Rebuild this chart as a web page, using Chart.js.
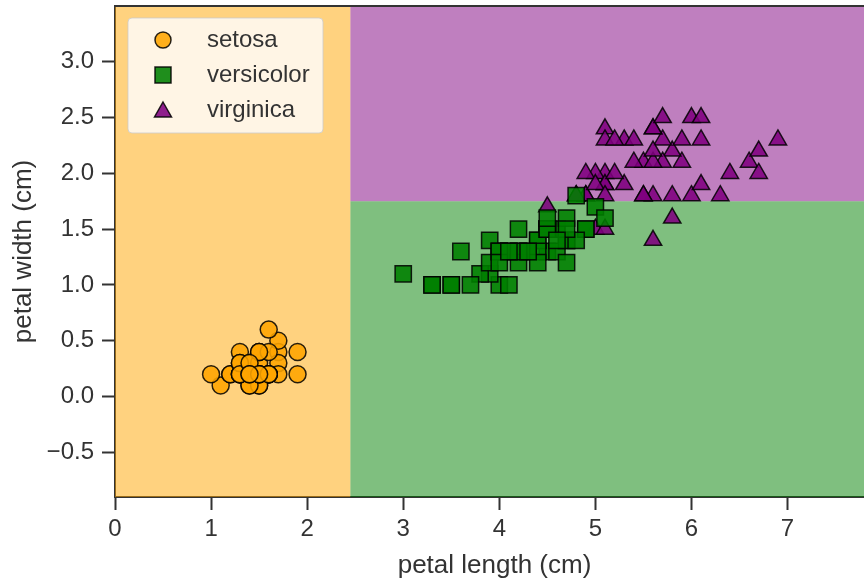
<!DOCTYPE html>
<html>
<head>
<meta charset="utf-8">
<script src="https://cdn.jsdelivr.net/npm/chart.js"></script>
<style>
  html, body { margin: 0; padding: 0; background: #fff; overflow: hidden; }
  /* the figure is a little wider than the window, its right edge is cut off like in the picture */
  #wrap { width: 874px; height: 581px; position: relative; }
</style>
</head>
<body>
<div id="wrap"><canvas id="irisChart"></canvas></div>
<script>
var setosaLength = [1.4,1.4,1.3,1.5,1.4,1.7,1.4,1.5,1.4,1.5,1.5,1.6,1.4,1.1,1.2,1.5,1.3,1.4,1.7,1.5,1.7,1.5,1.0,1.7,1.9,1.6,1.6,1.5,1.4,1.6,1.6,1.5,1.5,1.4,1.5,1.2,1.3,1.4,1.3,1.5,1.3,1.3,1.3,1.6,1.9,1.4,1.6,1.4,1.5,1.4];
var setosaWidth  = [0.2,0.2,0.2,0.2,0.2,0.4,0.3,0.2,0.2,0.1,0.2,0.2,0.1,0.1,0.2,0.4,0.4,0.3,0.3,0.3,0.2,0.4,0.2,0.5,0.2,0.2,0.4,0.2,0.2,0.2,0.2,0.4,0.1,0.2,0.2,0.2,0.2,0.1,0.2,0.2,0.3,0.3,0.2,0.6,0.4,0.3,0.2,0.2,0.2,0.2];

var versicolorLength = [4.7,4.5,4.9,4.0,4.6,4.5,4.7,3.3,4.6,3.9,3.5,4.2,4.0,4.7,3.6,4.4,4.5,4.1,4.5,3.9,4.8,4.0,4.9,4.7,4.3,4.4,4.8,5.0,4.5,3.5,3.8,3.7,3.9,5.1,4.5,4.5,4.7,4.4,4.1,4.0,4.4,4.6,4.0,3.3,4.2,4.2,4.2,4.3,3.0,4.1];
var versicolorWidth  = [1.4,1.5,1.5,1.3,1.5,1.3,1.6,1.0,1.3,1.4,1.0,1.5,1.0,1.4,1.3,1.4,1.5,1.0,1.5,1.1,1.8,1.3,1.5,1.2,1.3,1.4,1.4,1.7,1.5,1.0,1.1,1.0,1.2,1.6,1.5,1.6,1.5,1.3,1.3,1.3,1.2,1.4,1.2,1.0,1.3,1.2,1.3,1.3,1.1,1.3];

var virginicaLength = [6.0,5.1,5.9,5.6,5.8,6.6,4.5,6.3,5.8,6.1,5.1,5.3,5.5,5.0,5.1,5.3,5.5,6.7,6.9,5.0,5.7,4.9,6.7,4.9,5.7,6.0,4.8,4.9,5.6,5.8,6.1,6.4,5.6,5.1,5.6,6.1,5.6,5.5,4.8,5.4,5.6,5.1,5.1,5.9,5.7,5.2,5.0,5.2,5.4,5.1];
var virginicaWidth  = [2.5,1.9,2.1,1.8,2.2,2.1,1.7,1.8,1.8,2.5,2.0,1.9,2.1,2.0,2.4,2.3,1.8,2.2,2.3,1.5,2.3,2.0,2.0,1.8,2.1,1.8,1.8,1.8,2.1,1.6,1.9,2.0,2.2,1.5,1.4,2.3,2.4,1.8,1.8,2.1,2.4,2.3,1.9,2.3,2.5,2.3,1.9,2.0,2.3,1.8];

// decision tree split thresholds
var splitLength = 2.45;
var splitWidth = 1.75;

var xRange = [0, 7.9];
var yRange = [-0.9, 3.5];
var xTicks = [0, 1, 2, 3, 4, 5, 6, 7];
var yTicks = [-0.5, 0.0, 0.5, 1.0, 1.5, 2.0, 2.5, 3.0];

function toPoints(xs, ys) {
  var pts = [];
  for (var i = 0; i < xs.length; i++) pts.push({x: xs[i], y: ys[i]});
  return pts;
}

var textColor = '#333333';
var axisColor = '#333333';
var fontFamily = '"Liberation Sans", Arial, sans-serif';

// coloured decision regions + top spine
var regionsPlugin = {
  id: 'regions',
  beforeDatasetsDraw: function(chart) {
    var ctx = chart.ctx;
    var xs = chart.scales.x, ys = chart.scales.y;
    var xs0 = xs.getPixelForValue(xRange[0]);
    var xs1 = xs.getPixelForValue(splitLength);
    var xs2 = xs.getPixelForValue(xRange[1]);
    var yTop = ys.getPixelForValue(yRange[1]);
    var ySplit = ys.getPixelForValue(splitWidth);
    var yBot = ys.getPixelForValue(yRange[0]);
    ctx.save();
    ctx.fillStyle = 'rgba(255,165,0,0.5)';
    ctx.fillRect(xs0, yTop, xs1 - xs0, yBot - yTop);
    ctx.fillStyle = 'rgba(128,0,128,0.5)';
    ctx.fillRect(xs1, yTop, xs2 - xs1, ySplit - yTop);
    ctx.fillStyle = 'rgba(0,128,0,0.5)';
    ctx.fillRect(xs1, ySplit, xs2 - xs1, yBot - ySplit);
    ctx.restore();
  },
  afterDraw: function(chart) {
    var ctx = chart.ctx, a = chart.chartArea;
    ctx.save();
    ctx.strokeStyle = axisColor;
    ctx.lineWidth = 2;
    ctx.beginPath();
    ctx.moveTo(a.left - 1, a.top);
    ctx.lineTo(a.right, a.top);
    ctx.stroke();
    ctx.restore();
  }
};

// legend box in the upper left corner
var legendPlugin = {
  id: 'boxLegend',
  afterDraw: function(chart) {
    var ctx = chart.ctx, a = chart.chartArea;
    var bx = a.left + 13, by = a.top + 12, bw = 195, bh = 115;
    ctx.save();
    ctx.beginPath();
    ctx.roundRect(bx, by, bw, bh, 4);
    ctx.fillStyle = 'rgba(255,255,255,0.8)';
    ctx.fill();
    ctx.strokeStyle = 'rgba(204,204,204,0.8)';
    ctx.lineWidth = 1;
    ctx.stroke();
    chart.data.datasets.forEach(function(ds, i) {
      var mx = bx + 35, my = by + 22 + i * 35;
      ctx.beginPath();
      if (ds.pointStyle === 'circle') {
        ctx.arc(mx, my, 8, 0, Math.PI * 2);
      } else if (ds.pointStyle === 'rect') {
        ctx.rect(mx - 8, my - 8, 16, 16);
      } else {
        ctx.moveTo(mx, my - 8);
        ctx.lineTo(mx + 8.5, my + 7);
        ctx.lineTo(mx - 8.5, my + 7);
        ctx.closePath();
      }
      ctx.fillStyle = ds.backgroundColor;
      ctx.fill();
      ctx.strokeStyle = ds.borderColor;
      ctx.lineWidth = 1.5;
      ctx.stroke();
      ctx.fillStyle = textColor;
      ctx.font = '24px ' + fontFamily;
      ctx.textBaseline = 'middle';
      ctx.textAlign = 'left';
      ctx.fillText(ds.label, bx + 79, my);
    });
    ctx.restore();
  }
};

var ctx = document.getElementById('irisChart');

var myChart = new Chart(ctx, {
  type: 'scatter',
  data: {
    datasets: [{
      label: 'setosa',
      data: toPoints(setosaLength, setosaWidth),
      pointStyle: 'circle',
      pointRadius: 8.5,
      backgroundColor: 'rgba(255,165,0,0.88)',
      borderColor: 'rgba(0,0,0,0.85)',
      borderWidth: 1.5
    }, {
      label: 'versicolor',
      data: toPoints(versicolorLength, versicolorWidth),
      pointStyle: 'rect',
      pointRadius: 11.5,
      backgroundColor: 'rgba(0,128,0,0.88)',
      borderColor: 'rgba(0,0,0,0.85)',
      borderWidth: 1.5
    }, {
      label: 'virginica',
      data: toPoints(virginicaLength, virginicaWidth),
      pointStyle: 'triangle',
      pointRadius: 10,
      backgroundColor: 'rgba(128,0,128,0.88)',
      borderColor: 'rgba(0,0,0,0.85)',
      borderWidth: 1.5
    }]
  },
  options: {
    responsive: true,
    maintainAspectRatio: false,
    animation: false,
    events: [],
    layout: { autoPadding: false, padding: { top: 6, right: 0, left: 0, bottom: 0 } },
    plugins: {
      legend: { display: false },
      tooltip: { enabled: false }
    },
    scales: {
      x: {
        type: 'linear',
        min: xRange[0],
        max: xRange[1],
        afterBuildTicks: function(axis) {
          axis.ticks = xTicks.map(function(v) { return {value: v}; });
        },
        afterFit: function(axis) {
          axis.height = 84;
          axis.paddingLeft = 0; axis.paddingRight = 0;
        },
        grid: { drawOnChartArea: false, drawTicks: true, tickLength: 13, tickWidth: 2, tickColor: axisColor },
        border: { display: true, color: axisColor, width: 2 },
        ticks: {
          color: textColor,
          padding: 5,
          maxRotation: 0,
          font: { family: fontFamily, size: 24 },
          callback: function(v) { return String(v); }
        },
        title: {
          display: true,
          text: 'petal length (cm)',
          color: textColor,
          padding: { top: 0, bottom: 0 },
          font: { family: fontFamily, size: 26 }
        }
      },
      y: {
        type: 'linear',
        min: yRange[0],
        max: yRange[1],
        afterBuildTicks: function(axis) {
          axis.ticks = yTicks.map(function(v) { return {value: v}; });
        },
        afterFit: function(axis) {
          axis.width = 115;
          axis.paddingTop = 0; axis.paddingBottom = 0;
        },
        grid: { drawOnChartArea: false, drawTicks: true, tickLength: 13, tickWidth: 2, tickColor: axisColor },
        border: { display: true, color: axisColor, width: 2 },
        ticks: {
          color: textColor,
          padding: 8,
          font: { family: fontFamily, size: 24 },
          callback: function(v) {
            var s = Number(v).toFixed(1);
            return v < 0 ? '\u2212' + s.slice(1) : s;
          }
        },
        title: {
          display: true,
          text: 'petal width (cm)',
          color: textColor,
          padding: { top: 8, bottom: 0 },
          font: { family: fontFamily, size: 26 }
        }
      }
    }
  },
  plugins: [regionsPlugin, legendPlugin]
});
</script>
</body>
</html>
